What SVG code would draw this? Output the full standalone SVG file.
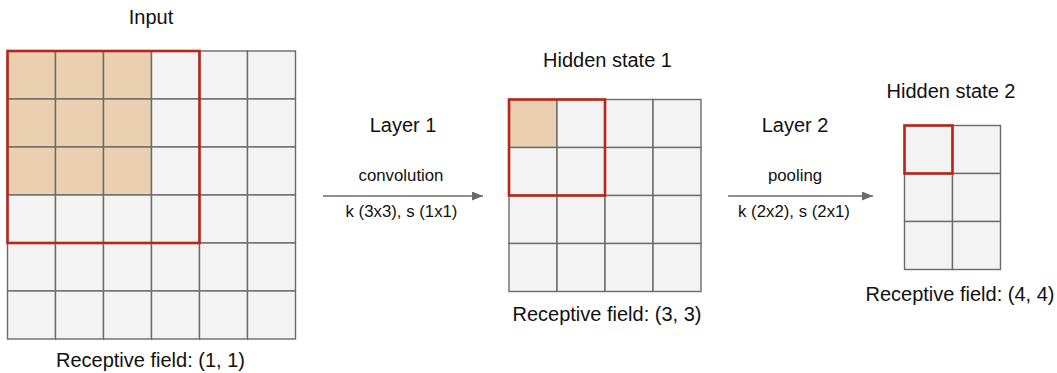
<svg xmlns="http://www.w3.org/2000/svg" width="1057" height="373" viewBox="0 0 1057 373">
<defs>
<style>
.cell{fill:#f3f3f3;stroke:#6b6b6b;stroke-width:1.4}
.tan{fill:#eacfb1;stroke:#6b6b6b;stroke-width:1.4}
.rf{fill:none;stroke:#b8261a;stroke-width:2.6}
.t{font-family:"Liberation Sans",Arial,sans-serif;font-size:20px;fill:#111;text-anchor:middle}
.s{font-family:"Liberation Sans",Arial,sans-serif;font-size:16.8px;fill:#111;text-anchor:middle}
.conn{stroke:#6b6b6b;stroke-width:1.5;fill:none}
</style>
<marker id="ah" markerWidth="11" markerHeight="9" refX="11" refY="4.5" orient="auto" markerUnits="userSpaceOnUse"><path d="M0,0 L11,4.5 L0,9 z" fill="#6b6b6b"/></marker>
</defs>
<rect width="1057" height="373" fill="#ffffff"/>
<g id="input">
<text class="t" x="151" y="24">Input</text>
<g transform="translate(7.5,51)">
<rect class="tan" x="0" y="0" width="48" height="48"/><rect class="tan" x="48" y="0" width="48" height="48"/><rect class="tan" x="96" y="0" width="48" height="48"/><rect class="cell" x="144" y="0" width="48" height="48"/><rect class="cell" x="192" y="0" width="48" height="48"/><rect class="cell" x="240" y="0" width="48" height="48"/>
<rect class="tan" x="0" y="48" width="48" height="48"/><rect class="tan" x="48" y="48" width="48" height="48"/><rect class="tan" x="96" y="48" width="48" height="48"/><rect class="cell" x="144" y="48" width="48" height="48"/><rect class="cell" x="192" y="48" width="48" height="48"/><rect class="cell" x="240" y="48" width="48" height="48"/>
<rect class="tan" x="0" y="96" width="48" height="48"/><rect class="tan" x="48" y="96" width="48" height="48"/><rect class="tan" x="96" y="96" width="48" height="48"/><rect class="cell" x="144" y="96" width="48" height="48"/><rect class="cell" x="192" y="96" width="48" height="48"/><rect class="cell" x="240" y="96" width="48" height="48"/>
<rect class="cell" x="0" y="144" width="48" height="48"/><rect class="cell" x="48" y="144" width="48" height="48"/><rect class="cell" x="96" y="144" width="48" height="48"/><rect class="cell" x="144" y="144" width="48" height="48"/><rect class="cell" x="192" y="144" width="48" height="48"/><rect class="cell" x="240" y="144" width="48" height="48"/>
<rect class="cell" x="0" y="192" width="48" height="48"/><rect class="cell" x="48" y="192" width="48" height="48"/><rect class="cell" x="96" y="192" width="48" height="48"/><rect class="cell" x="144" y="192" width="48" height="48"/><rect class="cell" x="192" y="192" width="48" height="48"/><rect class="cell" x="240" y="192" width="48" height="48"/>
<rect class="cell" x="0" y="240" width="48" height="48"/><rect class="cell" x="48" y="240" width="48" height="48"/><rect class="cell" x="96" y="240" width="48" height="48"/><rect class="cell" x="144" y="240" width="48" height="48"/><rect class="cell" x="192" y="240" width="48" height="48"/><rect class="cell" x="240" y="240" width="48" height="48"/>
<rect class="rf" x="0" y="0" width="192" height="192"/>
</g>
<text class="t" x="150.5" y="366.5">Receptive field: (1, 1)</text>
</g>
<g id="hidden1">
<text class="t" x="607.5" y="67">Hidden state 1</text>
<g transform="translate(509,99.5)">
<rect class="tan" x="0" y="0" width="48" height="48"/><rect class="cell" x="48" y="0" width="48" height="48"/><rect class="cell" x="96" y="0" width="48" height="48"/><rect class="cell" x="144" y="0" width="48" height="48"/>
<rect class="cell" x="0" y="48" width="48" height="48"/><rect class="cell" x="48" y="48" width="48" height="48"/><rect class="cell" x="96" y="48" width="48" height="48"/><rect class="cell" x="144" y="48" width="48" height="48"/>
<rect class="cell" x="0" y="96" width="48" height="48"/><rect class="cell" x="48" y="96" width="48" height="48"/><rect class="cell" x="96" y="96" width="48" height="48"/><rect class="cell" x="144" y="96" width="48" height="48"/>
<rect class="cell" x="0" y="144" width="48" height="48"/><rect class="cell" x="48" y="144" width="48" height="48"/><rect class="cell" x="96" y="144" width="48" height="48"/><rect class="cell" x="144" y="144" width="48" height="48"/>
<rect class="rf" x="0" y="0" width="96" height="96"/>
</g>
<text class="t" x="607" y="321">Receptive field: (3, 3)</text>
</g>
<g id="hidden2">
<text class="t" x="951" y="97.5">Hidden state 2</text>
<g transform="translate(904.5,125.5)">
<rect class="cell" x="0" y="0" width="48" height="48"/><rect class="cell" x="48" y="0" width="48" height="48"/>
<rect class="cell" x="0" y="48" width="48" height="48"/><rect class="cell" x="48" y="48" width="48" height="48"/>
<rect class="cell" x="0" y="96" width="48" height="48"/><rect class="cell" x="48" y="96" width="48" height="48"/>
<rect class="rf" x="0" y="0" width="48" height="48"/>
</g>
<text class="t" x="960" y="301">Receptive field: (4, 4)</text>
</g>
<g id="connectors">
<line class="conn" x1="323" y1="196" x2="483" y2="196" marker-end="url(#ah)"/>
<line class="conn" x1="728" y1="196" x2="873" y2="196" marker-end="url(#ah)"/>
</g>
<g id="labels">
<text class="t" x="403" y="131.5">Layer 1</text>
<text class="s" x="401" y="181">convolution</text>
<text class="s" x="401.5" y="217">k (3x3), s (1x1)</text>
<text class="t" x="795" y="131.5">Layer 2</text>
<text class="s" x="795" y="181">pooling</text>
<text class="s" x="794" y="217">k (2x2), s (2x1)</text>
</g>
</svg>
